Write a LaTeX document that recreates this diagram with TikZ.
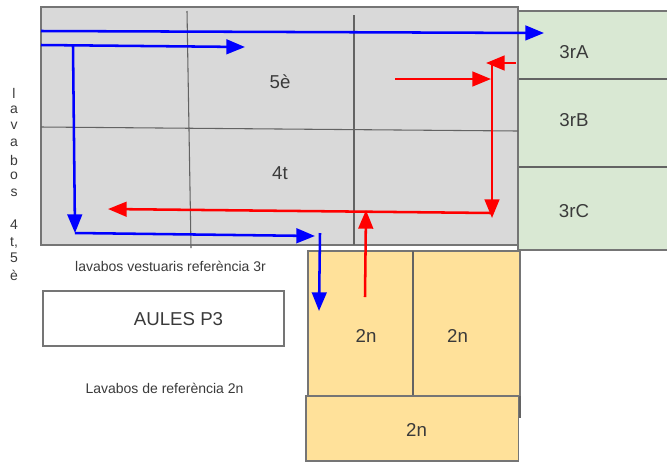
\documentclass[tikz,border=0pt]{standalone}
\usepackage{fontspec}
\setmainfont{Liberation Sans}
\usetikzlibrary{arrows.meta}
\definecolor{roomgrey}{HTML}{D9D9D9}
\definecolor{roomgreen}{HTML}{D9E8D3}
\definecolor{roomyellow}{HTML}{FFE19A}
\definecolor{edgegrey}{HTML}{757575}
\definecolor{inkgrey}{HTML}{3A3A3A}
\tikzset{
  room/.style={draw=edgegrey,line width=1pt},
  wall/.style={draw=edgegrey!85!black,line width=.8pt},
  routeblue/.style={draw=blue,line width=1.9pt},
  routered/.style={draw=red,line width=1.9pt},
  tipped/.style={-{Triangle[length=14pt,width=11pt]}},
  biglabel/.style={text=inkgrey,font=\fontsize{14}{16}\selectfont,inner sep=0pt},
  smalllabel/.style={text=inkgrey,font=\fontsize{10.5}{12}\selectfont,inner sep=0pt}
}
\begin{document}
\begin{tikzpicture}[x=0.75pt,y=-0.75pt]
\useasboundingbox (0,0) rectangle (667,462);
% rooms
\draw[room,fill=roomgreen] (518,11) rectangle (670,250);
\draw[wall] (518,79) -- (670,79);
\draw[wall] (518,167) -- (670,167);
\draw[room,fill=roomgrey] (41,7) rectangle (518,245);
\draw[wall] (187,11) -- (191,248);
\draw[wall] (354,15) -- (354,245);
\draw[wall] (41,127) -- (518,131);
\draw[room,fill=roomyellow] (308,251) rectangle (520,396);
\draw[wall] (520,396) -- (520,418);
\draw[wall] (413,251) -- (413,396);
\draw[room,fill=roomyellow] (306,396) rectangle (518.5,461);
\draw[room,fill=white] (43,291) rectangle (284,346);
% labels
\node[biglabel] (l5) at (280,82) {5è};
\node[biglabel] (l4) at (280,173) {4t};
\node[biglabel] (l3a) at (574,52) {3rA};
\node[biglabel] (l3b) at (574,120) {3rB};
\node[biglabel] (l3c) at (574,211) {3rC};
\node[biglabel] (laules) at (178.5,319) {AULES P3};
\node[biglabel] (l2a) at (366,336) {2n};
\node[biglabel] (l2b) at (457.5,336) {2n};
\node[biglabel] (l2c) at (416.5,430) {2n};
\node[smalllabel] (lv3) at (170.5,266) {lavabos vestuaris referència 3r};
\node[smalllabel] (lv2) at (164.5,388) {Lavabos de referència 2n};
\node[smalllabel] (s1) at (14,93) {l};
\node[smalllabel] (s2) at (14,110) {a};
\node[smalllabel] (s3) at (14,126) {v};
\node[smalllabel] (s4) at (14,143) {a};
\node[smalllabel] (s5) at (14,160) {b};
\node[smalllabel] (s6) at (14,176) {o};
\node[smalllabel] (s7) at (14,193) {s};
\node[smalllabel] (s8) at (14,225) {4};
\node[smalllabel] (s9) at (14,243) {t,};
\node[smalllabel] (s10) at (14,258) {5};
\node[smalllabel] (s11) at (14,275) {è};
% route end points
\coordinate (b1s) at (41,31);
\coordinate (b1e) at (544,33);
\coordinate (b2s) at (41,45);
\coordinate (b2e) at (245,47);
\coordinate (b3s) at (73,46);
\coordinate (b3e) at (75,233);
\coordinate (b4e) at (315,236);
\coordinate (b5s) at (320,233);
\coordinate (b5e) at (319,311);
\coordinate (r1s) at (395,79);
\coordinate (r1e) at (491,79);
\coordinate (r2s) at (516,63);
\coordinate (r2e) at (486,63);
\coordinate (r3s) at (492,63);
\coordinate (r3e) at (492,218);
\coordinate (r4s) at (492,213);
\coordinate (r4e) at (108,209);
\coordinate (r5s) at (365,297);
\coordinate (r5e) at (366,210);
% routes
\draw[routeblue,tipped] (b1s) -- (b1e);
\draw[routeblue,tipped] (b2s) -- (b2e);
\draw[routeblue,tipped] (b3s) -- (b3e);
\draw[routeblue,tipped] (b3e) -- (b4e);
\draw[routeblue,tipped] (b5s) -- (b5e);
\draw[routered,tipped] (r1s) -- (r1e);
\draw[routered,tipped] (r2s) -- (r2e);
\draw[routered,tipped] (r3s) -- (r3e);
\draw[routered,tipped] (r4s) -- (r4e);
\draw[routered,tipped] (r5s) -- (r5e);
\end{tikzpicture}
\end{document}
